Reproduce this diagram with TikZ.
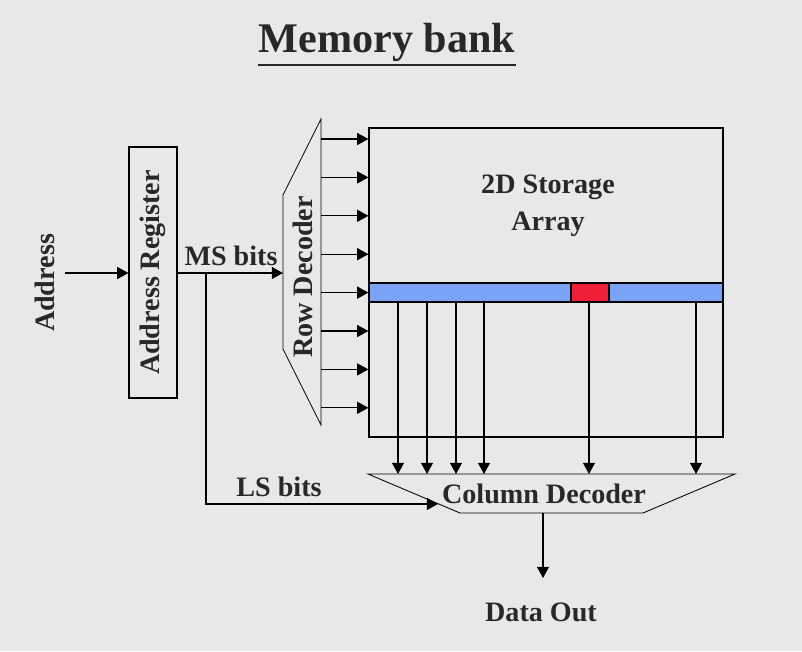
\documentclass[tikz,border=0pt]{standalone}
\usepackage{fontspec}
\setmainfont{Liberation Serif}
\usepackage{tikz}
\usetikzlibrary{arrows.meta,positioning,calc}
\definecolor{mbBack}{RGB}{232,232,232}
\definecolor{mbInk}{RGB}{40,40,40}
\definecolor{mbRow}{RGB}{122,162,245}
\definecolor{mbCell}{RGB}{238,32,56}

\begin{document}
\begin{tikzpicture}[
    x=0.025cm, y=-0.025cm,
    lbl/.style={font=\bfseries\fontsize{20}{26}\selectfont, text=mbInk, inner sep=0pt, align=center},
    box/.style={draw, line width=0.8pt, inner sep=0pt},
    wire/.style={line width=0.8pt},
    arrow/.style={-{Triangle[length=2.8mm,width=3mm]}, line width=0.8pt}
  ]
  \fill[mbBack] (0,0) rectangle (802,651);
  \useasboundingbox (0,0) rectangle (802,651);

  % title
  \node[font=\bfseries\fontsize{30}{36}\selectfont, text=mbInk, inner sep=0pt, anchor=base] (title) at (387,52) {Memory bank};
  \draw[mbInk, line width=1.4pt] (title.west |- 0,65) -- (title.east |- 0,65);

  % address register
  \node[lbl, rotate=90] (addr) at (45,283) {Address};
  \node[box, minimum width=1.2cm, minimum height=6.275cm] (areg) at (153,272.5) {};
  \node[lbl, rotate=90] (aregtxt) at (areg.center) {Address Register};
  \coordinate (ain) at (65,273);
  \draw[arrow] (ain) -- (ain -| areg.west);

  % row decoder
  \coordinate (rdtop) at (321,119);
  \coordinate (rdbot) at (321,425);
  \coordinate (rdin) at (283,273);
  \draw[line width=0.6pt] (rdtop) -- (283,195) -- (283,349) -- (rdbot) -- cycle;
  \node[lbl, rotate=90] (rdec) at (303,277) {Row Decoder};

  % storage array
  \node[box, minimum width=8.85cm, minimum height=7.725cm] (array) at (546,282.5) {};
  \node[lbl] (arraytxt) at (548,206) {2D Storage\\Array};
  \node[box, fill=mbRow, minimum width=8.85cm, minimum height=0.475cm] (row) at (546,292.5) {};
  \node[box, fill=mbCell, minimum width=0.95cm, minimum height=0.475cm] (cell) at (590,292.5) {};

  % address split
  \coordinate (split) at (206,273);
  \draw[arrow] (ain -| areg.east) -- (rdin);
  \node[lbl] (ms) at (231,256) {MS bits};
  \node[lbl] (ls) at (279,487) {LS bits};

  % word lines
  \foreach \i in {0,...,7}
    \draw[arrow] ($(rdtop)+(0,20+38.4*\i)$) -- (array.west |- 0,139+38.4*\i);

  % column decoder
  \coordinate (cdl) at (368,474);
  \coordinate (cdr) at (735,474);
  \coordinate (cdin) at (438,504);
  \coordinate (cdout) at (543,513);
  \draw[line width=0.6pt] (cdl) -- (cdr) -- (643,513) -- (460,513) -- cycle;
  \node[lbl] (cdec) at (544,494) {Column Decoder};
  \foreach \x in {398,427,456,484,589,696}
    \draw[arrow] (row.south -| \x,0) -- (cdl -| \x,0);
  \draw[arrow] (split) |- (cdin);

  % output
  \node[lbl] (out) at (541,612) {Data Out};
  \draw[arrow] (cdout) -- (543,578);
\end{tikzpicture}
\end{document}
